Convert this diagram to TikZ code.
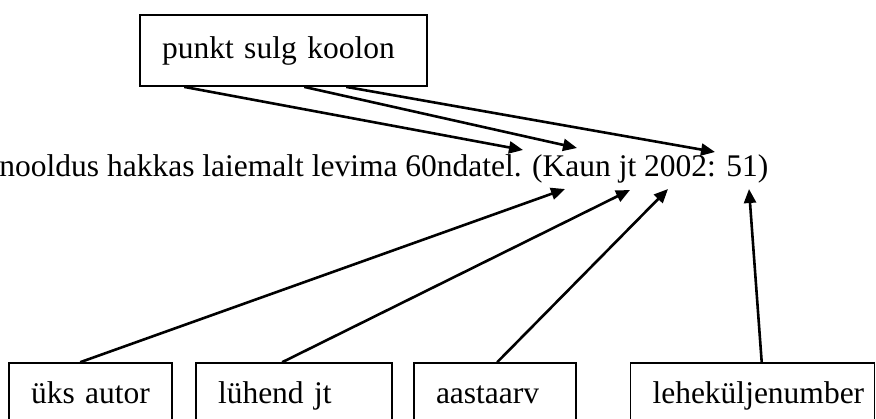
\documentclass[tikz,border=0pt]{standalone}
\usepackage{fontspec}
\setmainfont{Liberation Serif}
\usetikzlibrary{arrows.meta,calc}
\begin{document}
\begin{tikzpicture}[x=0.5pt,y=-0.5pt,
  every node/.style={font=\fontsize{15.75pt}{18pt}\selectfont},
  lbox/.style={draw=black, line width=0.8pt, rectangle, inner xsep=11pt, inner ysep=0pt,
    align=left, text height=10.8pt, text depth=3.4pt},
  conn/.style={line width=1.3pt, -{Triangle[length=7pt,width=6pt]}}]
\useasboundingbox (0,0) rectangle (876,418);
% top box
\node[lbox, minimum height=35.5pt, text width=121.5pt] (top) at (283.5,50.6) {punkt sulg koolon};
% sentence
\node[anchor=base west, inner sep=0pt] (sent) at (-1,176) {nooldus hakkas laiemalt levima 60ndatel. (Kaun jt 2002: 51)};
% bottom boxes
\node[lbox, minimum height=32.6pt, text width=59.5pt] (b1) at (90.5,395.6) {üks autor};
\node[lbox, minimum height=32.6pt, text width=76pt] (b2) at (294,395.6) {lühend jt};
\node[lbox, minimum height=32.6pt, text width=59pt] (b3) at (495,395.6) {aastaarv};
\node[lbox, minimum height=32.6pt, text width=100pt] (b4) at (752.5,395.6) {leheküljenumber};
% arrow tips
\coordinate (t1) at (523,150);
\coordinate (t2) at (577,148);
\coordinate (t3) at (715,152);
\coordinate (u1) at (565,189);
\coordinate (u2) at (630,190);
\coordinate (u3) at (668,189);
\coordinate (u4) at (749,189);
% top arrows
\draw[conn] ($(top.south west)+(45,0)$) -- (t1);
\draw[conn] ($(top.south west)+(165,0)$) -- (t2);
\draw[conn] ($(top.south west)+(207,0)$) -- (t3);
% bottom arrows
\draw[conn] ($(b1.north west)+(72,0)$) -- (u1);
\draw[conn] ($(b2.north west)+(87,0)$) -- (u2);
\draw[conn] ($(b3.north west)+(84,0)$) -- (u3);
\draw[conn] ($(b4.north west)+(132,0)$) -- (u4);
\end{tikzpicture}
\end{document}
